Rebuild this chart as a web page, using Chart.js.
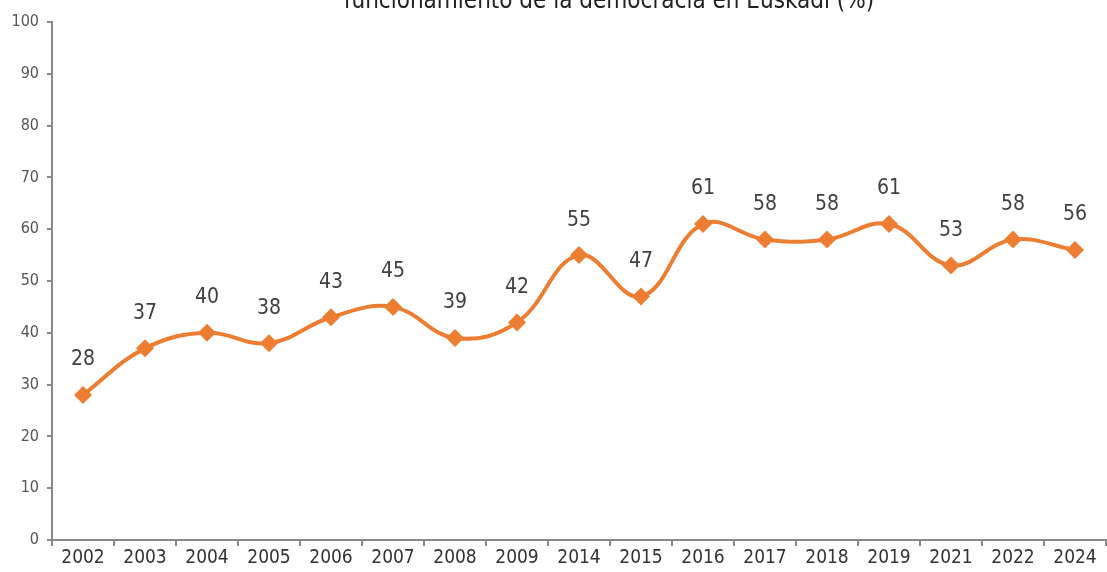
<!DOCTYPE html>
<html>
<head>
<meta charset="utf-8">
<script src="https://cdn.jsdelivr.net/npm/chart.js@4/dist/chart.umd.min.js"></script>
<style>
  html, body { margin: 0; padding: 0; overflow: hidden; background: #fff; }
  #wrap { position: absolute; left: 0; top: 0; width: 1115px; height: 572px; }
</style>
</head>
<body>
<div id="wrap"><canvas id="chart"></canvas></div>
<script>
// datos
const years = ["2002", "2003", "2004", "2005", "2006", "2007", "2008", "2009", "2014",
               "2015", "2016", "2017", "2018", "2019", "2021", "2022", "2024"];
const valores = [28, 37, 40, 38, 43, 45, 39, 42, 55, 47, 61, 58, 58, 61, 53, 58, 56];
const yTicks = [0, 10, 20, 30, 40, 50, 60, 70, 80, 90, 100];
const titulo = "funcionamiento de la democracia en Euskadi (%)";

const FONT = "'DejaVu Sans Condensed', 'DejaVu Sans', sans-serif";
const naranja = "#ED7D31";
const gris = "#8a8a8a";

// titulo (cortado arriba) y etiquetas de valores
const extras = {
    id: 'extras',
    afterDatasetsDraw(chart) {
        const ctx = chart.ctx;
        ctx.save();
        ctx.fillStyle = "#222";
        ctx.font = "24px " + FONT;
        ctx.textAlign = "center";
        ctx.textBaseline = "alphabetic";
        ctx.fillText(titulo, 609, 8);

        ctx.fillStyle = "#404040";
        ctx.font = "21px " + FONT;
        ctx.textBaseline = "middle";
        chart.getDatasetMeta(0).data.forEach((p, i) => {
            ctx.fillText(valores[i], p.x, p.y - 35);
        });
        ctx.restore();
    }
};

new Chart(document.getElementById("chart").getContext("2d"), {
    type: 'line',
    data: {
        labels: years,
        datasets: [{
            data: valores,
            borderColor: naranja,
            backgroundColor: naranja,
            borderWidth: 4,
            tension: 0.4,
            pointStyle: 'rectRot',
            pointRadius: 9,
            pointHoverRadius: 9,
            pointBorderWidth: 0,
            fill: false
        }]
    },
    options: {
        responsive: true,
        maintainAspectRatio: false,
        animation: false,
        layout: { padding: { top: 22, left: 0, right: 0, bottom: 0 } },
        plugins: {
            legend: { display: false },
            tooltip: { enabled: false }
        },
        scales: {
            x: {
                offset: true,
                grid: { offset: true, drawOnChartArea: false, drawTicks: true, tickLength: 6, color: gris, lineWidth: 2 },
                border: { color: gris, width: 2 },
                ticks: { color: "#333", font: { family: FONT, size: 19 }, padding: 1, maxRotation: 0, autoSkip: false },
                afterFit: s => { s.height = 32; }
            },
            y: {
                min: 0,
                max: 100,
                afterBuildTicks: s => { s.ticks = yTicks.map(v => ({ value: v })); },
                grid: { drawOnChartArea: false, drawTicks: true, tickLength: 5, color: gris, lineWidth: 2 },
                border: { color: gris, width: 2 },
                ticks: { color: "#555", font: { family: FONT, size: 16 }, padding: 8 },
                afterFit: s => { s.width = 52; }
            }
        }
    },
    plugins: [extras]
});
</script>
</body>
</html>
